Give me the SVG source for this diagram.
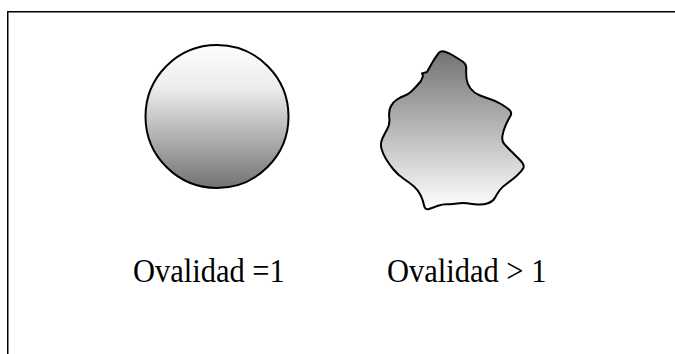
<svg xmlns="http://www.w3.org/2000/svg" width="675" height="354" viewBox="0 0 675 354">
<defs>
<linearGradient id="gCircle" x1="0" y1="0" x2="0" y2="1">
<stop offset="0" stop-color="#fdfdfd"/>
<stop offset="0.3" stop-color="#ececec"/>
<stop offset="1" stop-color="#737373"/>
</linearGradient>
<linearGradient id="gBlob" x1="0" y1="0" x2="0" y2="1">
<stop offset="0" stop-color="#737373"/>
<stop offset="1" stop-color="#ffffff"/>
</linearGradient>
<style>
.shape{stroke:#000;stroke-width:2;stroke-linejoin:round}
.lbl{font-family:"Liberation Serif","Times New Roman",serif;font-size:30.5px;fill:#000}
</style>
</defs>
<rect width="675" height="354" fill="#fff"/>
<path d="M7.75,354 V11.75 H676" fill="none" stroke="#000" stroke-width="1.5"/>
<g id="circle">
<circle class="shape" cx="217" cy="116.5" r="71.5" fill="url(#gCircle)"/>
</g>
<g id="blob">
<path class="shape" fill="url(#gBlob)" d="M439,52.75 Q441,50.5 445,51.75 Q449,53 453.5,55.75 Q458,58.5 462.25,61.25 Q466.5,64 466.25,68.5 Q466,73 466.5,78.5 Q467,84 470.5,88.5 Q474,93 479.5,95.25 Q485,97.5 490.5,99.25 Q496,101 501,104 Q506,107 509.25,109.75 Q512.5,112.5 510.25,116.25 Q508,120 505.75,125 Q503.5,130 502.5,135.5 Q501.5,141 504.25,144 Q507,147 511,151 Q515,155 520,160 Q525,165 523.25,168.25 Q521.5,171.5 516.75,175.75 Q512,180 507,183.5 Q502,187 499.5,190.5 Q497,194 495,197.75 Q493,201.5 488,203.25 Q483,205 477.5,204.5 Q472,204 467,203.25 Q462,202.5 457,203.5 Q452,204.5 447.5,204.25 Q443,204 438,205.75 Q433,207.5 429,209 Q425,210.5 424,205.25 Q423,200 420.5,195 Q418,190 414,186.5 Q410,183 404,179 Q398,175 393.5,169.5 Q389,164 386,159 Q383,154 381.5,148.75 Q380,143.5 382.5,138.25 Q385,133 387.5,128.5 Q390,124 389.25,117.5 Q388.5,111 390.75,106.5 Q393,102 397,99.5 Q401,97 404.5,95.75 Q408,94.5 411,91.75 Q414,89 417.5,85 L421,81 L423,76 L422,73.5 L427,72 L432,63 Q437,55 439,52.75 Z"/>
</g>
<g id="label1"><text class="lbl" transform="scale(1,1.1)" x="133" y="256.4">Ovalidad =1</text></g>
<g id="label2"><text class="lbl" transform="scale(1,1.1)" x="387" y="256.4">Ovalidad &gt; 1</text></g>
</svg>
